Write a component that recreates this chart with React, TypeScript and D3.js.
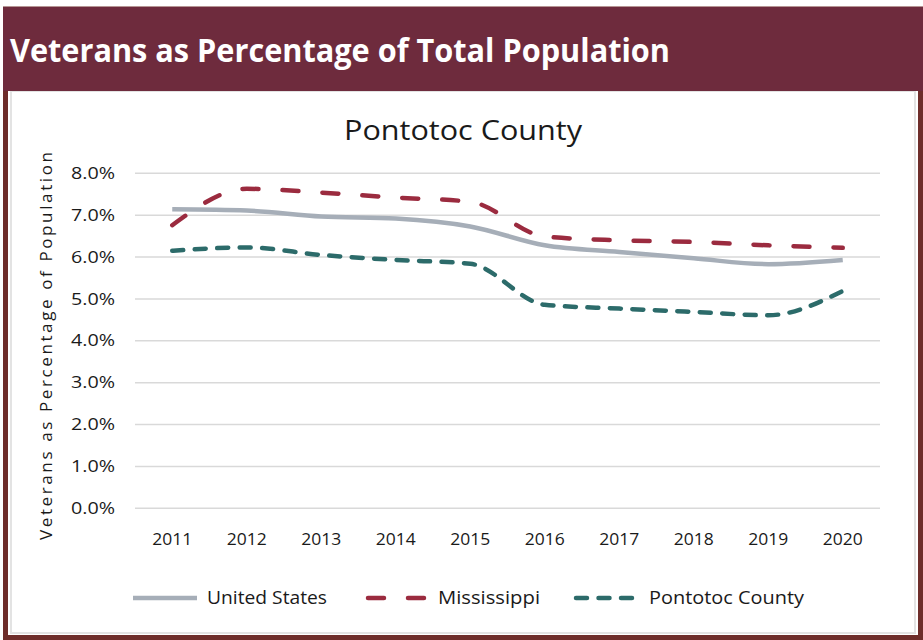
import * as React from "react";
import * as d3 from "d3";

const years = ["2011", "2012", "2013", "2014", "2015", "2016", "2017", "2018", "2019", "2020"];
const unitedStates = [7.14, 7.11, 6.97, 6.92, 6.73, 6.28, 6.12, 5.97, 5.83, 5.93];
const mississippi = [6.76, 7.63, 7.54, 7.42, 7.32, 6.49, 6.40, 6.36, 6.28, 6.22];
const pontotoc = [6.15, 6.23, 6.05, 5.93, 5.84, 4.86, 4.77, 4.69, 4.61, 5.19];
const yTicks = [0, 1, 2, 3, 4, 5, 6, 7, 8];

const series = [
  { name: "United States", values: unitedStates, color: "#a6aeb8", dash: null },
  { name: "Mississippi", values: mississippi, color: "#9b2b3f", dash: "16,24" },
  { name: "Pontotoc County", values: pontotoc, color: "#2c6b6a", dash: "11,11.5" },
];

const W = 923;
const H = 640;
const plot = { left: 135, right: 880, top: 173.3, bottom: 508.3 };
const font = "'Open Sans', 'DejaVu Sans', sans-serif";

export default function App() {
  const x = d3.scaleBand().domain(years).range([plot.left, plot.right]);
  const y = d3.scaleLinear().domain([0, 8]).range([plot.bottom, plot.top]);
  const cx = (yr: string) => (x(yr) as number) + x.bandwidth() / 2;

  const line = d3
    .line<number>()
    .x((_, i) => cx(years[i]))
    .y((d) => y(d))
    .curve(d3.curveMonotoneX);

  // legend layout: sample line start, sample end, label start, label width
  const legendY = 598;
  const legendPos = [
    { x1: 133, x2: 197, tx: 207, tw: 120 },
    { x1: 368, x2: 426, tx: 438, tw: 102 },
    { x1: 576, x2: 638, tx: 649, tw: 155 },
  ];

  return (
    <svg
      width={W}
      height={H}
      style={{ position: "absolute", left: 0, top: 0, background: "#fff" }}
    >
      {/* outer frame */}
      <rect x={5.5} y={9} width={915} height={628.5} fill="none" stroke="#6e2d2a" strokeWidth={5} />
      <rect x={11} y={91} width={904} height={542} fill="none" stroke="#e3e3e3" strokeWidth={2} />
      {/* header band */}
      <rect x={3} y={7} width={920} height={84} fill="#6e2b3d" />
      <text
        x={10}
        y={62}
        fill="#fff"
        fontFamily={font}
        fontWeight={700}
        fontSize={33}
        textLength={660}
        lengthAdjust="spacingAndGlyphs"
      >
        Veterans as Percentage of Total Population
      </text>

      {/* chart title */}
      <text
        x={463}
        y={140}
        textAnchor="middle"
        fill="#1a1a1a"
        fontFamily={font}
        fontSize={27}
        textLength={238}
        lengthAdjust="spacingAndGlyphs"
      >
        Pontotoc County
      </text>

      {/* gridlines + y ticks */}
      {yTicks.map((t) => (
        <g key={t}>
          <line x1={plot.left} x2={plot.right} y1={y(t)} y2={y(t)} stroke="#d9d9d9" strokeWidth={1.5} />
          <text
            x={115}
            y={y(t)}
            dy="0.35em"
            textAnchor="end"
            fill="#1a1a1a"
            fontFamily={font}
            fontSize={16}
            textLength={44}
            lengthAdjust="spacingAndGlyphs"
          >
            {t.toFixed(1) + "%"}
          </text>
        </g>
      ))}

      {/* x ticks */}
      {years.map((yr) => (
        <text
          key={yr}
          x={cx(yr)}
          y={545}
          textAnchor="middle"
          fill="#1a1a1a"
          fontFamily={font}
          fontSize={17}
          textLength={40}
          lengthAdjust="spacingAndGlyphs"
        >
          {yr}
        </text>
      ))}

      {/* y axis title */}
      <text
        transform={`translate(52,346) rotate(-90)`}
        textAnchor="middle"
        fill="#1a1a1a"
        fontFamily={font}
        fontSize={17}
        textLength={388}
        lengthAdjust="spacing"
      >
        Veterans as Percentage of Population
      </text>

      {/* series lines */}
      {series.map((s) => (
        <path
          key={s.name}
          d={line(s.values) as string}
          fill="none"
          stroke={s.color}
          strokeWidth={4.5}
          strokeLinecap={s.dash ? "round" : "butt"}
          strokeLinejoin="round"
          strokeDasharray={s.dash ?? undefined}
        />
      ))}

      {/* legend */}
      {series.map((s, i) => (
        <g key={s.name}>
          <line
            x1={legendPos[i].x1}
            x2={legendPos[i].x2}
            y1={legendY}
            y2={legendY}
            stroke={s.color}
            strokeWidth={4.5}
            strokeLinecap={s.dash ? "round" : "butt"}
            strokeDasharray={s.dash ?? undefined}
          />
          <text
            x={legendPos[i].tx}
            y={legendY}
            dy="0.35em"
            fill="#1a1a1a"
            fontFamily={font}
            fontSize={18}
            textLength={legendPos[i].tw}
            lengthAdjust="spacingAndGlyphs"
          >
            {s.name}
          </text>
        </g>
      ))}
    </svg>
  );
}
